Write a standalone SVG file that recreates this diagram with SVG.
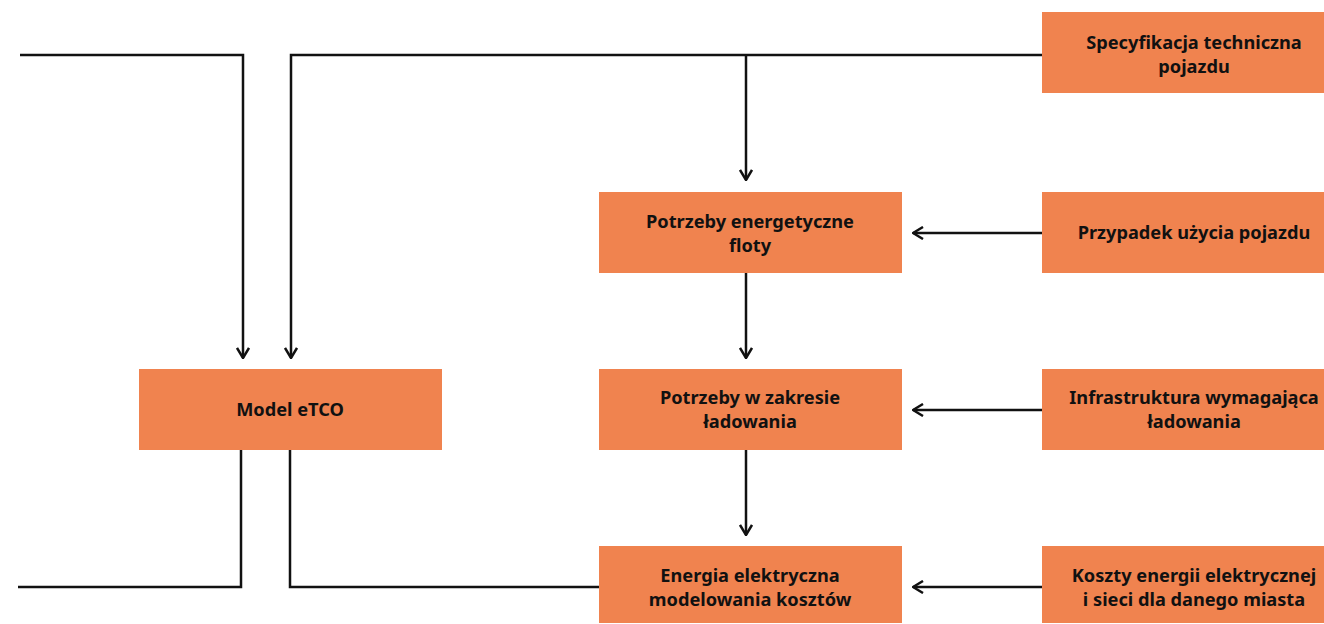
<svg xmlns="http://www.w3.org/2000/svg" width="1324" height="624" viewBox="0 0 1324 624">
<style>
.box{fill:#F0834F}
.t{font-family:"Noto Sans","Liberation Sans",sans-serif;font-weight:bold;font-size:18.2px;fill:#111;text-anchor:middle}
.c{fill:none;stroke:#111;stroke-width:2.5}
</style>
<defs>
<marker id="ah" viewBox="0 0 12 14" refX="11" refY="7" markerWidth="12" markerHeight="14" markerUnits="userSpaceOnUse" orient="auto">
<path d="M1,1 L11,7 L1,13" fill="none" stroke="#111" stroke-width="2.5"/>
</marker>
</defs>
<rect width="1324" height="624" fill="#fff"/>
<g id="connectors">
<path class="c" d="M20,55 H243 V358" marker-end="url(#ah)"/>
<path class="c" d="M1042,55 H291 V358" marker-end="url(#ah)"/>
<path class="c" d="M746,55 V180" marker-end="url(#ah)"/>
<path class="c" d="M746,273 V358" marker-end="url(#ah)"/>
<path class="c" d="M746,450 V535" marker-end="url(#ah)"/>
<path class="c" d="M1042,233 H913" marker-end="url(#ah)"/>
<path class="c" d="M1042,410 H913" marker-end="url(#ah)"/>
<path class="c" d="M1042,587 H913" marker-end="url(#ah)"/>
<path class="c" d="M241,450 V587 H18"/>
<path class="c" d="M290,450 V587 H599"/>
</g>
<g id="model">
<rect class="box" x="139" y="369" width="303" height="81"/>
<text class="t" x="290" y="416">Model eTCO</text>
</g>
<g id="spec">
<rect class="box" x="1042" y="12" width="303" height="81"/>
<text class="t" x="1194" y="49">Specyfikacja techniczna</text>
<text class="t" x="1194" y="73">pojazdu</text>
</g>
<g id="energetyczne">
<rect class="box" x="599" y="192" width="303" height="81"/>
<text class="t" x="750" y="228">Potrzeby energetyczne</text>
<text class="t" x="750" y="252">floty</text>
</g>
<g id="przypadek">
<rect class="box" x="1042" y="192" width="303" height="81"/>
<text class="t" x="1194" y="239">Przypadek użycia pojazdu</text>
</g>
<g id="ladowanie">
<rect class="box" x="599" y="369" width="303" height="81"/>
<text class="t" x="750" y="404">Potrzeby w zakresie</text>
<text class="t" x="750" y="428">ładowania</text>
</g>
<g id="infrastruktura">
<rect class="box" x="1042" y="369" width="303" height="81"/>
<text class="t" x="1194" y="404">Infrastruktura wymagająca</text>
<text class="t" x="1194" y="428">ładowania</text>
</g>
<g id="energia">
<rect class="box" x="599" y="546" width="303" height="77"/>
<text class="t" x="750" y="582">Energia elektryczna</text>
<text class="t" x="750" y="606">modelowania kosztów</text>
</g>
<g id="koszty">
<rect class="box" x="1042" y="546" width="303" height="77"/>
<text class="t" x="1194" y="582">Koszty energii elektrycznej</text>
<text class="t" x="1194" y="606">i sieci dla danego miasta</text>
</g>
</svg>
